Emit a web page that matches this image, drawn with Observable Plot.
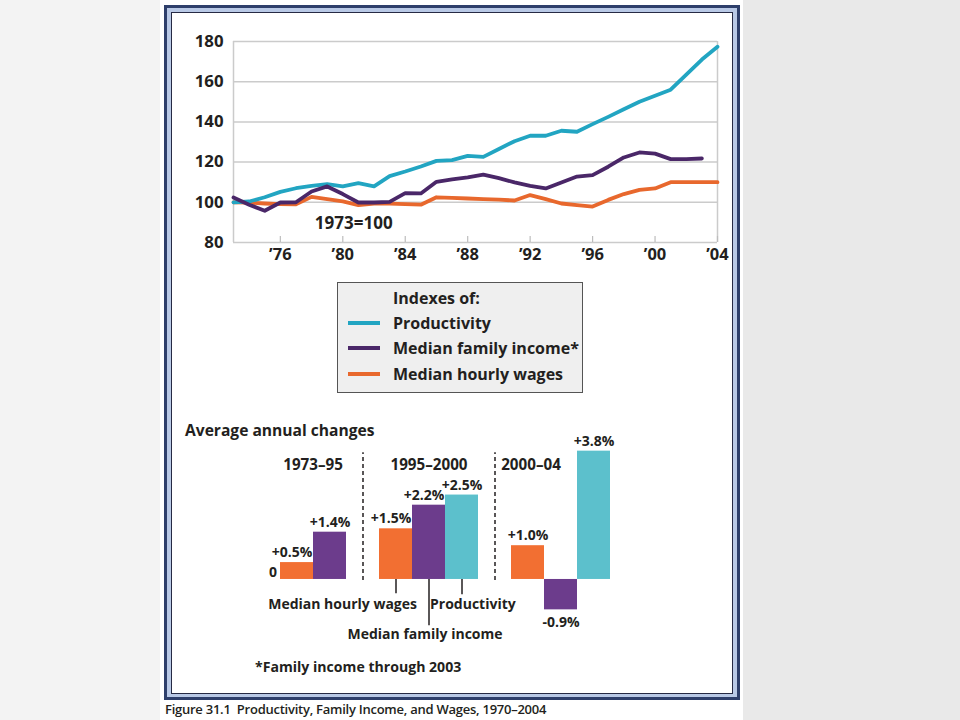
<!DOCTYPE html>
<html><head><meta charset="utf-8">
<script src="https://cdn.jsdelivr.net/npm/d3@7"></script>
<script src="https://cdn.jsdelivr.net/npm/@observablehq/plot@0.6"></script>
<style>
html,body{margin:0;padding:0;}
body{width:960px;height:720px;position:relative;overflow:hidden;
  background:linear-gradient(to right,#f3f3f3 0,#f3f3f3 160px,#fff 160px,#fff 743px,#e9e9e9 743px);
  font-family:"Open Sans",Lato,sans-serif;color:#231f20;}
#frame{position:absolute;left:164px;top:5px;width:570px;height:689px;border:3px solid #2e3f6b;background:#b9c9e6;}
#inner{position:absolute;left:4px;top:4px;right:4px;bottom:3px;border:1.5px solid #262a44;background:#fff;}
.abs{position:absolute;}
#legend{left:337px;top:282px;width:244px;height:109px;background:#efefef;border:1px solid #555;font-weight:700;font-size:16px;}
#legend .row{position:absolute;left:55px;line-height:20px;white-space:nowrap;}
#legend .sw{position:absolute;left:-45px;top:8px;width:32px;height:4px;}
#bartitle{left:185px;top:420px;font-weight:700;font-size:15.6px;line-height:20px;white-space:nowrap;}
#foot{left:255px;top:657px;font-weight:700;font-size:14.1px;line-height:20px;white-space:nowrap;}
#caption{left:165px;top:700px;font-weight:600;font-size:13px;letter-spacing:-0.25px;line-height:18px;white-space:pre;}
</style></head>
<body>
<div id="frame"><div id="inner"></div></div>
<div id="line" class="abs" style="left:170px;top:20px"></div>
<div id="legend" class="abs"></div>
<div id="bartitle" class="abs">Average annual changes</div>
<div id="bars" class="abs" style="left:170px;top:440px"></div>
<div id="foot" class="abs">*Family income through 2003</div>
<div id="caption" class="abs">Figure 31.1  Productivity, Family Income, and Wages, 1970–2004</div>
<script>
// ---- Line chart data (index, 1973 = 100) ----
const years = [1973,1974,1975,1976,1977,1978,1979,1980,1981,1982,1983,1984,1985,1986,1987,1988,
  1989,1990,1991,1992,1993,1994,1995,1996,1997,1998,1999,2000,2001,2002,2003,2004];
const productivity = [100,100.4,102.5,105.2,107,108.2,109,107.9,109.5,107.9,113,115.3,117.8,120.6,121,123.1,
  122.6,126.5,130.4,133.1,133.1,135.6,135.1,138.9,142.5,146.3,150,153,156,163.5,171,177.4];
const familyIncome = [102.4,98.8,95.8,99.9,100,105.4,107.9,104.1,99.9,99.9,100.2,104.6,104.4,110.2,111.4,112.4,
  113.8,112,109.9,108.2,106.9,109.9,112.8,113.5,117.7,122.3,124.8,124.2,121.5,121.5,121.8];
const hourlyWages = [100,99.8,99.4,99.1,99,102.7,101.6,100.5,98.6,99.4,99.3,99.1,98.8,102.5,102.2,101.9,
  101.6,101.3,100.9,103.6,101.6,99.4,98.6,97.9,101.2,104.1,106.2,106.9,110,110,110,110];
const yTicks = [80,100,120,140,160,180];
const xTicks = [1976,1980,1984,1988,1992,1996,2000,2004];
const baseNote = "1973=100";
const legendTitle = "Indexes of:";
const seriesNames = ["Productivity","Median family income*","Median hourly wages"];
const lineColors = ["#22a5c2","#4a2768","#e8682d"];

// ---- Bar chart data (average annual % change) ----
const periods = ["1973–95","1995–2000","2000–04"];
const measures = ["Median hourly wages","Median family income","Productivity"];
const changes = [[0.5,1.4,null],[1.5,2.2,2.5],[1.0,-0.9,3.8]];
const barColors = ["#f26f32","#6c3c8c","#5cc0cc"];

// ---------------- line chart ----------------
const seriesValues = [productivity, familyIncome, hourlyWages];
const lineData = [];
[2,0,1].forEach(si => seriesValues[si].forEach((v,i) => lineData.push({year: years[i], value: v, series: seriesNames[si]})));

const font = {fontFamily: "'Open Sans', Lato, sans-serif"};
const ink = "#231f20";
const lineChart = Plot.plot({
  width: 570, height: 250, marginLeft: 63, marginRight: 23, marginTop: 21, marginBottom: 28,
  style: {...font, color: ink, background: "transparent", overflow: "visible"},
  x: {domain: [years[0], xTicks[xTicks.length-1]]},
  y: {domain: [yTicks[0], yTicks[yTicks.length-1]]},
  color: {domain: seriesNames, range: lineColors},
  marks: [
    Plot.ruleY(yTicks, {stroke: "#cbcbcb", strokeWidth: 1.5}),
    Plot.ruleX([years[0], xTicks[xTicks.length-1]], {stroke: "#cbcbcb", strokeWidth: 1.5}),
    Plot.ruleX(xTicks, {y1: yTicks[0], y2: yTicks[0] + 3, stroke: "#bdbdbd", strokeWidth: 1.2}),
    Plot.axisY({ticks: yTicks, tickSize: 0, tickPadding: 10, label: null, fontSize: 16.8, fontWeight: 700}),
    Plot.axisX({ticks: xTicks, tickSize: 0, tickPadding: 6, label: null, fontSize: 16.5, fontWeight: 700,
      tickFormat: d => "\u2019" + String(d).slice(2)}),
    Plot.line(lineData, {x: "year", y: "value", z: "series", stroke: "series", strokeWidth: 3.8}),
    Plot.text([{label: baseNote, year: 1980.7, value: 89.3}], {x: "year", y: "value", text: "label", fontSize: 17, fontWeight: 700, fill: ink})
  ]
});
document.getElementById("line").append(lineChart);

// ---------------- legend ----------------
const leg = document.getElementById("legend");
const title = document.createElement("div");
title.className = "row"; title.style.top = "5px"; title.textContent = legendTitle;
leg.append(title);
seriesNames.forEach((n,i) => {
  const r = document.createElement("div");
  r.className = "row"; r.style.top = (30 + i*25.3) + "px"; r.textContent = n;
  const sw = document.createElement("span");
  sw.className = "sw"; sw.style.background = lineColors[i];
  r.append(sw); leg.append(r);
});

// ---------------- bar chart ----------------
const bars = [];
const slotDomain = [];
periods.forEach((p,pi) => {
  if (pi > 0) slotDomain.push("gap" + pi);
  measures.forEach((m,mi) => {
    const v = changes[pi][mi];
    if (v == null) return;
    const key = p + "|" + m;
    slotDomain.push(key);
    bars.push({period: p, measure: m, value: v, slot: key});
  });
});
bars.forEach((b,i) => {
  const next = bars[i+1];
  b.crowded = b.value > 0 && next && next.period === b.period && next.value > b.value;
});
const fmt = v => (v > 0 ? "+" : "") + v.toFixed(1) + "%";
const slotOf = (p, m) => periods[p] + "|" + measures[m];
const txt = {fontSize: 14, fontWeight: 700, fill: ink};
const head = {fontSize: 15.2, fontWeight: 700, fill: ink};
const cat = {fontSize: 14, fontWeight: 700, fill: ink};
const at = (label, slot, value) => [{label, slot, value}];

const barChart = Plot.plot({
  width: 570, height: 220, marginLeft: 106, marginRight: 126.7, marginTop: 3.9, marginBottom: 13.5,
  style: {...font, color: ink, background: "transparent", overflow: "visible"},
  x: {domain: slotDomain, padding: 0, axis: null},
  y: {domain: [-2, 4], axis: null},
  color: {domain: measures, range: barColors},
  marks: [
    Plot.barY(bars, {x: "slot", y: "value", fill: "measure", inset: 0}),
    Plot.ruleX(["gap1","gap2"], {y1: -0.03, y2: 3.75, stroke: ink, strokeWidth: 1.5, strokeDasharray: "4,3"}),
    Plot.text(bars.filter(d => d.value > 0 && !d.crowded), {x: "slot", y: "value", text: d => fmt(d.value), dy: -10, ...txt}),
    Plot.text(bars.filter(d => d.crowded), {x: "slot", y: "value", text: d => fmt(d.value), dy: -10, dx: -5, ...txt}),
    Plot.text(bars.filter(d => d.value < 0), {x: "slot", y: "value", text: d => fmt(d.value), dy: 13, ...txt}),
    Plot.text(at("0", slotOf(0,0), 0), {x: "slot", y: "value", text: "label", dx: -24, dy: -7, ...txt}),
    // period headings
    Plot.text(at(periods[0], slotOf(0,1)), {x: "slot", frameAnchor: "top", text: "label", dx: -16.9, dy: 15, ...head}),
    Plot.text(at(periods[1], slotOf(1,1)), {x: "slot", frameAnchor: "top", text: "label", dy: 15, ...head}),
    Plot.text(at(periods[2], slotOf(2,0)), {x: "slot", frameAnchor: "top", text: "label", dx: 3, dy: 15, ...head}),
    // leader lines and category labels under the middle group
    Plot.ruleX(at("", slotOf(1,0), -0.42), {x: "slot", y1: 0, y2: "value", stroke: ink, strokeWidth: 1.5}),
    Plot.ruleX(at("", slotOf(1,1), -1.37), {x: "slot", y1: 0, y2: "value", stroke: ink, strokeWidth: 1.5}),
    Plot.ruleX(at("", slotOf(1,2), -0.45), {x: "slot", y1: 0, y2: "value", stroke: ink, strokeWidth: 1.5}),
    Plot.text(at(measures[0], slotOf(1,0), 0), {x: "slot", y: "value", text: "label", textAnchor: "end", dx: 21, dy: 25, ...cat}),
    Plot.text(at(measures[1], slotOf(1,1), 0), {x: "slot", y: "value", text: "label", dx: -4, dy: 55, ...cat}),
    Plot.text(at(measures[2], slotOf(1,2), 0), {x: "slot", y: "value", text: "label", textAnchor: "start", dx: -32, dy: 25, ...cat})
  ]
});
document.getElementById("bars").append(barChart);
</script>
</body></html>
